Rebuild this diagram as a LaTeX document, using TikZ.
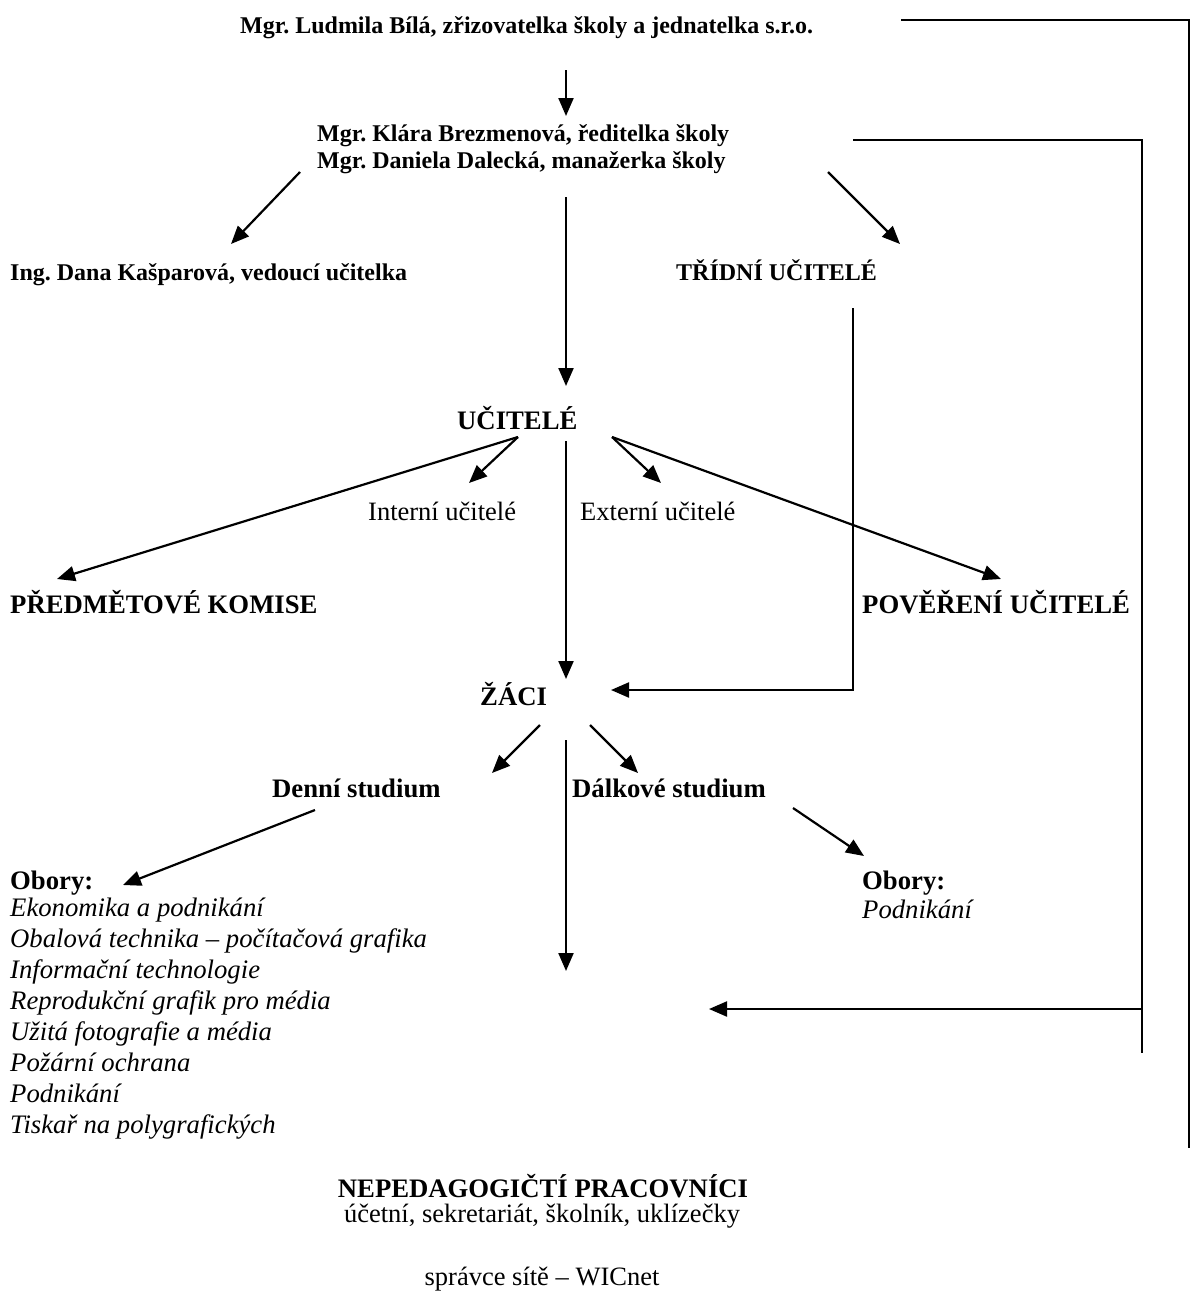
\documentclass[tikz,border=0pt]{standalone}
\usepackage{fontspec}
\setmainfont{Liberation Serif}
\usetikzlibrary{arrows.meta}
\begin{document}
\frenchspacing
\begin{tikzpicture}[x=1pt,y=-1pt,
  arr/.style={line width=2.2pt,-{Triangle[length=18pt,width=15pt]}},
  brk/.style={line width=1.7pt},
  sb/.style={font=\fontsize{24}{27}\selectfont\bfseries, inner sep=0pt, anchor=base west},
  lb/.style={font=\fontsize{26.7}{30.9}\selectfont\bfseries, inner sep=0pt, anchor=base west},
  rg/.style={font=\fontsize{26.5}{30.9}\selectfont, inner sep=0pt, anchor=base west},
  itx/.style={font=\fontsize{26.7}{30.9}\selectfont\itshape, inner sep=0pt, anchor=base west, align=left},
]
\useasboundingbox (0,0) rectangle (1192,1293);
% texts (multi-line nodes: base anchor = last line)
\node[sb] (top) at (240,33) {Mgr. Ludmila Bílá, zřizovatelka školy a jednatelka s.r.o.};
\node[sb, align=left] (dir) at (317,168) {Mgr. Klára Brezmenová, ředitelka školy\\Mgr. Daniela Dalecká, manažerka školy};
\node[sb] (ved) at (10,280) {Ing. Dana Kašparová, vedoucí učitelka};
\node[sb] (tri) at (676,280) {TŘÍDNÍ UČITELÉ};
\node[lb] (uc) at (457,429) {UČITELÉ};
\node[rg] (int) at (368,520) {Interní učitelé};
\node[rg] (ext) at (580,520) {Externí učitelé};
\node[lb] (pk) at (10,613) {PŘEDMĚTOVÉ KOMISE};
\node[lb] (pu) at (862,613) {POVĚŘENÍ UČITELÉ};
\node[lb] (zaci) at (480,705) {ŽÁCI};
\node[lb] (den) at (272,797) {Denní studium};
\node[lb] (dal) at (572,797) {Dálkové studium};
\node[lb] (ob1) at (10,889) {Obory:};
\node[itx] (ob1l) at (10,1133) {Ekonomika a podnikání\\Obalová technika – počítačová grafika\\Informační technologie\\Reprodukční grafik pro média\\Užitá fotografie a média\\Požární ochrana\\Podnikání\\Tiskař na polygrafických};
\node[lb] (ob2) at (862,889) {Obory:};
\node[itx] (ob2l) at (862,918) {Podnikání};
\node[lb, anchor=base] (nep) at (543,1197) {NEPEDAGOGIČTÍ PRACOVNÍCI};
\node[rg, anchor=base] (nep2) at (542,1222) {účetní, sekretariát, školník, uklízečky};
\node[rg, anchor=base] (sit) at (542,1285) {správce sítě – WICnet};
% connector end points
\coordinate (a1s) at (566,70);   \coordinate (a1e) at (566,116);
\coordinate (a2s) at (300,172);  \coordinate (a2e) at (231,244);
\coordinate (a3s) at (828,172);  \coordinate (a3e) at (900,244);
\coordinate (a4s) at (566,197);  \coordinate (a4e) at (566,386);
\coordinate (ucl) at (518,437);  \coordinate (ucr) at (612,437);
\coordinate (a5e) at (57,579);   \coordinate (a6e) at (469,483);
\coordinate (a7s) at (566,441);  \coordinate (a7e) at (566,679);
\coordinate (a8e) at (661,483);  \coordinate (a9e) at (1001,579);
\coordinate (t1) at (853,308);   \coordinate (t2) at (853,690);  \coordinate (t3) at (611,690);
\coordinate (z1s) at (540,725);  \coordinate (z1e) at (492,773);
\coordinate (z2s) at (590,725);  \coordinate (z2e) at (638,773);
\coordinate (z3s) at (566,740);  \coordinate (z3e) at (566,971);
\coordinate (d1s) at (315,810);  \coordinate (d1e) at (123,885);
\coordinate (d2s) at (793,808);  \coordinate (d2e) at (864,856);
\coordinate (b1) at (853,140);   \coordinate (b2) at (1142,140); \coordinate (b3) at (1142,1053);
\coordinate (b4) at (1142,1009); \coordinate (b5) at (709,1009);
\coordinate (c1) at (901,20);    \coordinate (c2) at (1189,20);  \coordinate (c3) at (1189,1148);
% connectors
\draw[arr] (a1s) -- (a1e);
\draw[arr] (a2s) -- (a2e);
\draw[arr] (a3s) -- (a3e);
\draw[arr] (a4s) -- (a4e);
\draw[arr] (ucl) -- (a5e);
\draw[arr] (ucl) -- (a6e);
\draw[arr] (a7s) -- (a7e);
\draw[arr] (ucr) -- (a8e);
\draw[arr] (ucr) -- (a9e);
\draw[arr] (t1) -- (t2) -- (t3);
\draw[arr] (z1s) -- (z1e);
\draw[arr] (z2s) -- (z2e);
\draw[arr] (z3s) -- (z3e);
\draw[arr] (d1s) -- (d1e);
\draw[arr] (d2s) -- (d2e);
\draw[brk] (b1) -- (b2) -- (b3);
\draw[arr] (b4) -- (b5);
\draw[brk] (c1) -- (c2) -- (c3);
\end{tikzpicture}
\end{document}
